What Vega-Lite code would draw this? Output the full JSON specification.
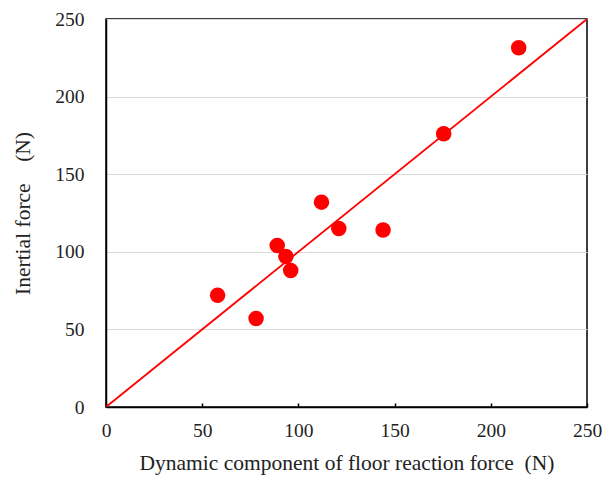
{
  "$schema": "https://vega.github.io/schema/vega-lite/v6.json",
  "width": 481,
  "height": 388,
  "autosize": "none",
  "padding": {"left": 106, "top": 19, "right": 15, "bottom": 70},
  "background": "white",
  "config": {
    "view": {"stroke": "black", "strokeWidth": 1.5},
    "font": "Liberation Serif",
    "axis": {"labelFont": "Liberation Serif", "titleFont": "Liberation Serif", "labelColor": "#222", "titleColor": "#222", "titleFontWeight": "normal"}
  },
  "datasets": {
    "pts": [
      {"x": 58, "y": 72},
      {"x": 78, "y": 57},
      {"x": 89, "y": 104},
      {"x": 93.5, "y": 97},
      {"x": 96, "y": 88},
      {"x": 112, "y": 132},
      {"x": 121, "y": 115},
      {"x": 144, "y": 114},
      {"x": 175.5, "y": 176},
      {"x": 214.5, "y": 231.5}
    ],
    "line": [
      {"x": 0, "y": 0},
      {"x": 250, "y": 250}
    ]
  },
  "layer": [
    {
      "data": {"name": "line"},
      "mark": {"type": "line", "color": "#ff0000", "strokeWidth": 1.8, "clip": true},
      "encoding": {
        "x": {"field": "x", "type": "quantitative", "scale": {"domain": [0, 250], "nice": false},
          "axis": {"title": "Dynamic component of floor reaction force\u00a0\u00a0(N)", "values": [0, 50, 100, 150, 200, 250], "grid": false, "domainColor": "black", "domainWidth": 1.5, "tickColor": "black", "tickSize": -4, "tickWidth": 1.5, "labelFontSize": 19.5, "labelFlush": false, "labelPadding": 18, "titleFontSize": 21.5, "titlePadding": 13}},
        "y": {"field": "y", "type": "quantitative", "scale": {"domain": [0, 250], "nice": false},
          "axis": {"title": "Inertial force\u00a0\u00a0\u00a0\u00a0(N)", "values": [0, 50, 100, 150, 200, 250], "grid": true, "gridColor": "#d9d9d9", "gridWidth": 1.2, "ticks": false, "domainColor": "black", "domainWidth": 1.5, "labelFontSize": 19.5, "labelFlush": false, "labelPadding": 22, "titleFontSize": 21.5, "titlePadding": 20}}
      }
    },
    {
      "data": {"name": "pts"},
      "mark": {"type": "point", "filled": true, "color": "#ff0000", "opacity": 1, "size": 240},
      "encoding": {
        "x": {"field": "x", "type": "quantitative"},
        "y": {"field": "y", "type": "quantitative"}
      }
    }
  ]
}
